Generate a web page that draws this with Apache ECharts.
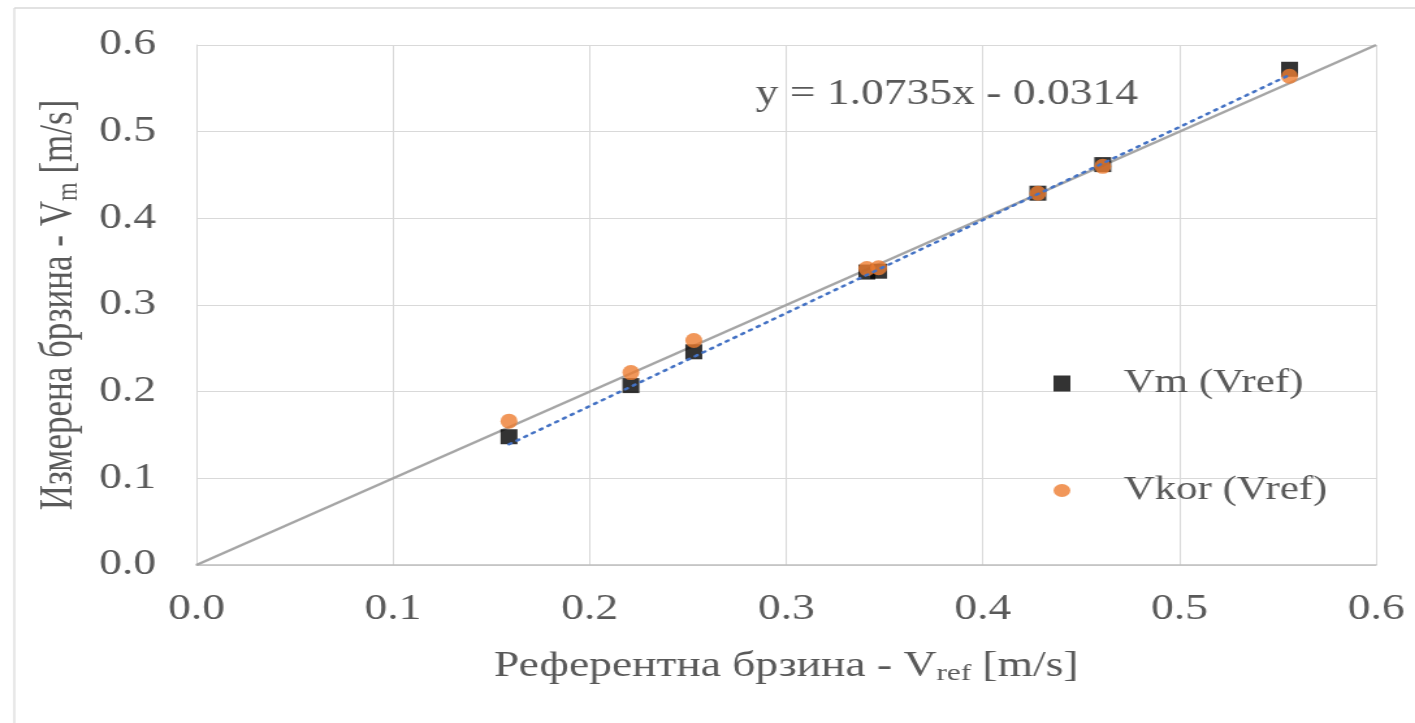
<!DOCTYPE html>
<html>
<head>
<meta charset="utf-8">
<script src="https://cdn.jsdelivr.net/npm/echarts@6/dist/echarts.min.js"></script>
<style>
  html, body { margin: 0; padding: 0; background: #fff; overflow: hidden; }
  /* оригиналната слика е развлечена хоризонтално, па и ние ја развлекуваме */
  #mainBox { width: 1088px; height: 723px; transform: scaleX(1.3006); transform-origin: 0 0; }
</style>
</head>
<body>
<div id="mainBox"></div>
<script>
// податоци прочитани од графикот
var vref = [0.159, 0.221, 0.253, 0.341, 0.347, 0.428, 0.461, 0.556];
var vm   = [0.148, 0.207, 0.246, 0.338, 0.339, 0.429, 0.462, 0.572];
var vkor = [0.166, 0.222, 0.259, 0.342, 0.343, 0.429, 0.460, 0.564];
var ticks = ['0.0', '0.1', '0.2', '0.3', '0.4', '0.5', '0.6'];
// линеарен тренд за Vm (од равенката на графикот)
var trendSlope = 1.0735;
var trendIntercept = -0.0314;
var trendX = [0.159, 0.556];
var identity = [[0, 0], [0.6, 0.6]];

var myChart = echarts.init(document.getElementById('mainBox'));

function pairs(xs, ys) {
    return xs.map(function (x, i) { return [x, ys[i]]; });
}
var trendData = trendX.map(function (x) { return [x, trendSlope * x + trendIntercept]; });

var serif = 'Liberation Serif';
var grey = '#595959';

var option = {
    backgroundColor: '#fff',
    animation: false,
    grid: { left: 151, right: 30, top: 45, bottom: 158 },
    xAxis: {
        type: 'value', min: 0, max: 0.6, interval: 0.1,
        axisLine: { show: true, lineStyle: { color: '#bfbfbf', width: 1.5 } },
        axisTick: { show: false },
        splitLine: { lineStyle: { color: '#d9d9d9', width: 1 } },
        axisLabel: {
            margin: 27, fontFamily: serif, fontSize: 35, color: grey,
            formatter: function (v) { return ticks[Math.round(v * 10)]; }
        },
        name: '{n|Референтна брзина - V}{s|ref}{n| [m/s]}',
        nameLocation: 'middle', nameGap: 83,
        nameTextStyle: {
            rich: {
                n: { fontFamily: serif, fontSize: 35, color: grey },
                s: { fontFamily: serif, fontSize: 24, color: grey, verticalAlign: 'bottom', padding: [14, 0, 0, 0] }
            }
        }
    },
    yAxis: {
        type: 'value', min: 0, max: 0.6, interval: 0.1,
        axisLine: { show: true, lineStyle: { color: '#d9d9d9', width: 1 } },
        axisTick: { show: false },
        splitLine: { lineStyle: { color: '#d9d9d9', width: 1.2 } },
        axisLabel: {
            margin: 31, fontFamily: serif, fontSize: 35, color: grey,
            formatter: function (v) { return ticks[Math.round(v * 10)]; }
        },
        name: '{n|Измерена брзина - V}{s|m}{n| [m/s]}',
        nameLocation: 'middle', nameGap: 86,
        nameTextStyle: {
            rich: {
                n: { fontFamily: serif, fontSize: 35, color: grey },
                s: { fontFamily: serif, fontSize: 24, color: grey, verticalAlign: 'bottom', padding: [14, 0, 0, 0] }
            }
        }
    },
    legend: {
        orient: 'vertical', left: 805, top: 362,
        itemGap: 74, itemWidth: 13, itemHeight: 16,
        data: ['Vm (Vref)', 'Vkor (Vref)'],
        textStyle: { fontFamily: serif, fontSize: 33, color: grey, padding: [0, 0, 0, 36] }
    },
    graphic: [
        {
            type: 'line', silent: true,
            shape: { x1: 11, y1: 8, x2: 1088, y2: 8 },
            style: { stroke: '#d9d9d9', lineWidth: 1.5 }
        },
        {
            type: 'line', silent: true,
            shape: { x1: 11, y1: 8, x2: 11, y2: 723 },
            style: { stroke: '#d9d9d9', lineWidth: 1.2 }
        },
        {
            type: 'text', left: 581, top: 77,
            style: { text: 'y = 1.0735x - 0.0314', font: '35px "Liberation Serif"', fill: grey }
        }
    ],
    series: [
        {
            name: 'identity', type: 'line', data: identity,
            symbol: 'none', silent: true, z: 1,
            lineStyle: { color: '#a6a6a6', width: 2.5 }
        },
        {
            name: 'Vm (Vref)', type: 'scatter', data: pairs(vref, vm),
            symbol: 'rect', symbolSize: [13, 15], z: 3,
            itemStyle: { color: '#000' }
        },
        {
            name: 'Vkor (Vref)', type: 'scatter', data: pairs(vref, vkor),
            symbol: 'circle', symbolSize: [13, 15], z: 4,
            itemStyle: { color: '#ed7d31' }
        },
        {
            name: 'trend', type: 'line', data: trendData,
            symbol: 'none', silent: true, z: 5,
            lineStyle: { color: '#4472c4', width: 2.5, type: [2, 5], cap: 'round' }
        }
    ]
};

myChart.setOption(option);
</script>
</body>
</html>
